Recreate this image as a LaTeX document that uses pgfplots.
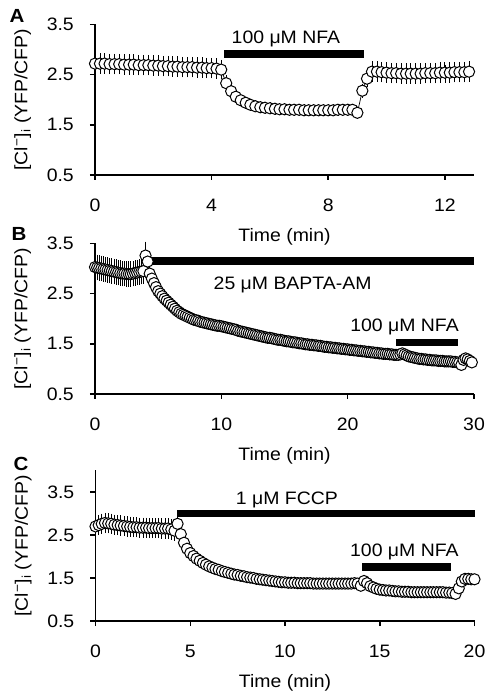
\documentclass[border=0pt]{standalone}
\usepackage{fontspec}
\setmainfont{Liberation Sans}[FakeStretch=1.08]
\usepackage{pgfplots}
\usepackage{pgfplotstable}
\pgfplotsset{compat=1.18}

% panel A: 100 uM NFA
\pgfplotstableread{
t v e
0.00 2.72 0.15
0.17 2.72 0.15
0.33 2.72 0.15
0.50 2.71 0.15
0.67 2.71 0.15
0.83 2.71 0.15
1.00 2.70 0.15
1.17 2.70 0.15
1.33 2.70 0.15
1.50 2.69 0.15
1.67 2.69 0.15
1.83 2.69 0.15
2.00 2.68 0.15
2.17 2.68 0.15
2.33 2.67 0.15
2.50 2.67 0.15
2.67 2.66 0.15
2.83 2.66 0.15
3.00 2.65 0.15
3.17 2.65 0.15
3.33 2.65 0.15
3.50 2.64 0.15
3.67 2.64 0.15
3.83 2.63 0.15
4.00 2.63 0.15
4.17 2.62 0.15
4.33 2.60 0.14
4.50 2.33 0.10
4.67 2.17 0.08
4.83 2.06 0.06
5.00 1.99 0.06
5.17 1.94 0.06
5.33 1.90 0.06
5.50 1.87 0.06
5.67 1.85 0.06
5.83 1.84 0.06
6.00 1.83 0.06
6.17 1.82 0.06
6.33 1.81 0.06
6.50 1.81 0.06
6.67 1.80 0.06
6.83 1.80 0.06
7.00 1.80 0.06
7.17 1.79 0.06
7.33 1.79 0.06
7.50 1.79 0.06
7.67 1.79 0.06
7.83 1.79 0.06
8.00 1.79 0.06
8.17 1.79 0.06
8.33 1.80 0.06
8.50 1.80 0.06
8.67 1.80 0.06
8.83 1.80 0.06
9.00 1.74 0.06
9.17 2.18 0.08
9.33 2.42 0.11
9.50 2.56 0.15
9.67 2.56 0.15
9.83 2.55 0.15
10.00 2.54 0.15
10.17 2.53 0.15
10.33 2.53 0.15
10.50 2.52 0.15
10.67 2.52 0.15
10.83 2.52 0.15
11.00 2.52 0.15
11.17 2.52 0.15
11.33 2.53 0.15
11.50 2.53 0.15
11.67 2.53 0.15
11.83 2.54 0.15
12.00 2.54 0.15
12.17 2.54 0.15
12.33 2.55 0.15
12.50 2.55 0.15
12.67 2.55 0.15
12.83 2.56 0.15
}\dataA

% panel B: BAPTA-AM then NFA
\pgfplotstableread{
t v e
0.00 3.03 0.20
0.17 3.02 0.20
0.33 3.01 0.20
0.50 3.00 0.20
0.67 2.99 0.20
0.83 2.98 0.20
1.00 2.97 0.20
1.17 2.96 0.20
1.33 2.95 0.20
1.50 2.94 0.20
1.67 2.93 0.20
1.83 2.92 0.20
2.00 2.91 0.20
2.17 2.90 0.20
2.33 2.90 0.20
2.50 2.89 0.20
2.67 2.89 0.20
2.83 2.89 0.20
3.00 2.90 0.20
3.17 2.91 0.20
3.33 2.92 0.20
3.50 2.93 0.20
3.67 2.94 0.20
3.83 2.95 0.20
4.00 3.26 0.22
4.17 3.14 0.18
4.33 2.90 0.13
4.50 2.80 0.11
4.67 2.71 0.09
4.83 2.63 0.07
5.00 2.55 0.06
5.17 2.50 0.05
5.33 2.45 0.05
5.50 2.40 0.05
5.67 2.36 0.05
5.83 2.32 0.05
6.00 2.28 0.05
6.17 2.24 0.05
6.33 2.20 0.05
6.50 2.16 0.05
6.67 2.13 0.05
6.83 2.10 0.05
7.00 2.08 0.05
7.17 2.06 0.05
7.33 2.04 0.05
7.50 2.02 0.05
7.67 2.00 0.05
7.83 1.98 0.05
8.00 1.97 0.05
8.17 1.96 0.05
8.33 1.94 0.05
8.50 1.93 0.05
8.67 1.92 0.05
8.83 1.91 0.05
9.00 1.90 0.05
9.17 1.89 0.05
9.33 1.88 0.05
9.50 1.87 0.05
9.67 1.86 0.05
9.83 1.86 0.05
10.00 1.85 0.05
10.17 1.84 0.05
10.33 1.83 0.05
10.50 1.82 0.05
10.67 1.81 0.05
10.83 1.80 0.05
11.00 1.79 0.05
11.17 1.78 0.05
11.33 1.76 0.05
11.50 1.75 0.05
11.67 1.74 0.05
11.83 1.73 0.05
12.00 1.72 0.05
12.17 1.71 0.05
12.33 1.70 0.05
12.50 1.69 0.05
12.67 1.68 0.05
12.83 1.67 0.05
13.00 1.66 0.05
13.17 1.65 0.05
13.33 1.64 0.05
13.50 1.63 0.05
13.67 1.62 0.05
13.83 1.62 0.05
14.00 1.61 0.05
14.17 1.60 0.05
14.33 1.59 0.05
14.50 1.58 0.05
14.67 1.58 0.05
14.83 1.57 0.05
15.00 1.56 0.05
15.17 1.55 0.05
15.33 1.55 0.05
15.50 1.54 0.05
15.67 1.53 0.05
15.83 1.53 0.05
16.00 1.52 0.05
16.17 1.51 0.05
16.33 1.51 0.05
16.50 1.50 0.05
16.67 1.49 0.05
16.83 1.49 0.05
17.00 1.48 0.05
17.17 1.48 0.05
17.33 1.47 0.05
17.50 1.47 0.05
17.67 1.46 0.05
17.83 1.46 0.05
18.00 1.45 0.05
18.17 1.44 0.05
18.33 1.44 0.05
18.50 1.43 0.05
18.67 1.43 0.05
18.83 1.42 0.05
19.00 1.42 0.05
19.17 1.41 0.05
19.33 1.41 0.05
19.50 1.40 0.05
19.67 1.40 0.05
19.83 1.39 0.05
20.00 1.39 0.05
20.17 1.38 0.05
20.33 1.38 0.05
20.50 1.37 0.05
20.67 1.37 0.05
20.83 1.36 0.05
21.00 1.36 0.05
21.17 1.35 0.05
21.33 1.35 0.05
21.50 1.34 0.05
21.67 1.34 0.05
21.83 1.33 0.05
22.00 1.33 0.05
22.17 1.32 0.05
22.33 1.32 0.05
22.50 1.31 0.05
22.67 1.31 0.05
22.83 1.30 0.05
23.00 1.30 0.05
23.17 1.30 0.05
23.33 1.29 0.05
23.50 1.29 0.05
23.67 1.28 0.05
23.83 1.28 0.05
24.00 1.28 0.05
24.17 1.29 0.05
24.33 1.31 0.05
24.50 1.29 0.05
24.67 1.27 0.05
24.83 1.25 0.05
25.00 1.24 0.05
25.17 1.23 0.05
25.33 1.22 0.05
25.50 1.21 0.05
25.67 1.20 0.05
25.83 1.20 0.05
26.00 1.19 0.05
26.17 1.19 0.05
26.33 1.18 0.05
26.50 1.18 0.05
26.67 1.17 0.05
26.83 1.17 0.05
27.00 1.17 0.05
27.17 1.16 0.05
27.33 1.16 0.05
27.50 1.16 0.05
27.67 1.15 0.05
27.83 1.15 0.05
28.00 1.15 0.05
28.17 1.15 0.05
28.33 1.14 0.05
28.50 1.14 0.05
28.67 1.13 0.05
28.83 1.12 0.05
29.00 1.08 0.05
29.17 1.18 0.05
29.33 1.21 0.05
29.50 1.19 0.05
29.67 1.16 0.05
29.83 1.13 0.05
}\dataB

% panel C: FCCP then NFA
\pgfplotstableread{
t v e
0.00 2.70 0.17
0.17 2.73 0.17
0.33 2.76 0.17
0.50 2.78 0.17
0.67 2.77 0.17
0.83 2.76 0.17
1.00 2.74 0.17
1.17 2.73 0.17
1.33 2.72 0.17
1.50 2.71 0.17
1.67 2.70 0.17
1.83 2.69 0.17
2.00 2.68 0.17
2.17 2.68 0.17
2.33 2.67 0.17
2.50 2.67 0.17
2.67 2.67 0.17
2.83 2.66 0.17
3.00 2.66 0.17
3.17 2.66 0.17
3.33 2.66 0.17
3.50 2.65 0.17
3.67 2.65 0.17
3.83 2.65 0.17
4.00 2.63 0.17
4.17 2.60 0.17
4.33 2.76 0.18
4.50 2.52 0.10
4.67 2.32 0.06
4.83 2.18 0.05
5.00 2.08 0.05
5.17 2.01 0.05
5.33 1.95 0.05
5.50 1.90 0.05
5.67 1.85 0.05
5.83 1.81 0.05
6.00 1.77 0.05
6.17 1.74 0.05
6.33 1.71 0.05
6.50 1.69 0.05
6.67 1.66 0.05
6.83 1.64 0.05
7.00 1.62 0.05
7.17 1.60 0.05
7.33 1.58 0.05
7.50 1.57 0.05
7.67 1.55 0.05
7.83 1.54 0.05
8.00 1.52 0.05
8.17 1.51 0.05
8.33 1.50 0.05
8.50 1.48 0.05
8.67 1.47 0.05
8.83 1.46 0.05
9.00 1.45 0.05
9.17 1.44 0.05
9.33 1.43 0.05
9.50 1.42 0.05
9.67 1.41 0.05
9.83 1.40 0.05
10.00 1.40 0.05
10.17 1.39 0.05
10.33 1.39 0.05
10.50 1.39 0.05
10.67 1.38 0.05
10.83 1.38 0.05
11.00 1.38 0.05
11.17 1.38 0.05
11.33 1.38 0.05
11.50 1.37 0.05
11.67 1.37 0.05
11.83 1.37 0.05
12.00 1.37 0.05
12.17 1.37 0.05
12.33 1.37 0.05
12.50 1.37 0.05
12.67 1.37 0.05
12.83 1.37 0.05
13.00 1.37 0.05
13.17 1.37 0.05
13.33 1.37 0.05
13.50 1.37 0.05
13.67 1.38 0.05
13.83 1.37 0.05
14.00 1.32 0.05
14.17 1.43 0.05
14.33 1.38 0.05
14.50 1.31 0.05
14.67 1.28 0.05
14.83 1.25 0.05
15.00 1.23 0.05
15.17 1.22 0.05
15.33 1.21 0.05
15.50 1.21 0.05
15.67 1.20 0.05
15.83 1.19 0.05
16.00 1.19 0.05
16.17 1.18 0.05
16.33 1.18 0.05
16.50 1.18 0.05
16.67 1.17 0.05
16.83 1.17 0.05
17.00 1.17 0.05
17.17 1.17 0.05
17.33 1.17 0.05
17.50 1.17 0.05
17.67 1.17 0.05
17.83 1.17 0.05
18.00 1.17 0.05
18.17 1.17 0.05
18.33 1.17 0.05
18.50 1.16 0.05
18.67 1.16 0.05
18.83 1.15 0.05
19.00 1.13 0.05
19.17 1.26 0.05
19.33 1.42 0.05
19.50 1.48 0.05
19.67 1.48 0.05
19.83 1.47 0.05
20.00 1.47 0.05
}\dataC

\pgfplotsset{
  trace/.style={
    scale only axis, width=379bp, height=150.5bp, clip=false,
    axis x line*=bottom, axis y line*=left,
    axis line style={line width=1.5bp, -},
    tick style={line width=1.5bp, black},
    tick align=outside, major tick length=5bp,
    ymin=0.5, ytick={0.5,1.5,2.5,3.5}, yticklabels={0.5,1.5,2.5,3.5},
    xticklabel style={inner sep=0pt, anchor=north, yshift=-19bp},
    yticklabel style={inner sep=0pt, anchor=east, xshift=-16bp},
    every axis y label/.style={at={(axis description cs:-0.191,0.5)}, rotate=90, anchor=center},
    every axis x label/.style={at={(axis description cs:0.5,-0.41)}, anchor=center},
    xlabel={Time (min)},
    ylabel={[Cl\textsuperscript{−}]\textsubscript{i} (YFP/CFP)},
  },
  % error bars first, underneath the circles
  sem/.style={black, only marks, mark=none, forget plot,
    error bars/y dir=both, error bars/y explicit, error bars/error mark=-,
    error bars/error bar style={line width=0.7bp, solid},
    error bars/error mark options={mark size=2.8bp, line width=0.7bp}},
  cells/.style={black, line width=0.7bp, mark=*, mark size=5.6bp,
    mark options={fill=white, draw=black, line width=1bp}},
  drug/.style={black, line width=7.5bp, no marks, forget plot},
}
\tikzset{panel/.style={font=\bfseries\fontsize{19bp}{22bp}\selectfont}}

\begin{document}
\fontsize{18bp}{21bp}\selectfont
\begin{tikzpicture}
\path[use as bounding box] (0,0) rectangle (487bp,693bp);

\begin{axis}[trace, at={(95bp,518bp)}, anchor=south west,
  xmin=0, xmax=13, ymax=3.5, xtick={0,4,8,12}, xticklabels={0,4,8,12}]
\addplot[sem] table[x=t, y=v, y error=e] {\dataA};
\addplot[cells] table[x=t, y=v] {\dataA};
\addplot[drug] coordinates {(4.44,2.91) (9.23,2.91)};
\node[anchor=base] at (axis cs:6.55,3.125) {100 μM NFA};
\end{axis}

\begin{axis}[trace, at={(95bp,299bp)}, anchor=south west,
  xmin=0, xmax=30, ymax=3.5, xtick={0,10,20,30}, xticklabels={0,10,20,30}]
\addplot[sem] table[x=t, y=v, y error=e] {\dataB};
\addplot[cells] table[x=t, y=v] {\dataB};
\addplot[drug] coordinates {(4.5,3.155) (30,3.155)};
\addplot[drug] coordinates {(23.85,1.53) (28.7,1.53)};
\node[anchor=base] at (axis cs:15.64,2.59) {25 μM BAPTA-AM};
\node[anchor=base] at (axis cs:24.5,1.745) {100 μM NFA};
\end{axis}

\begin{axis}[trace, at={(95.5bp,72bp)}, anchor=south west,
  xmin=0, xmax=20, ymax=4.0, xtick={0,5,10,15,20}, xticklabels={0,5,10,15,20}]
\addplot[sem] table[x=t, y=v, y error=e] {\dataC};
\addplot[cells] table[x=t, y=v] {\dataC};
\addplot[drug] coordinates {(4.32,3.0) (20,3.0)};
\addplot[drug] coordinates {(14.08,1.75) (18.75,1.75)};
\node[anchor=base] at (axis cs:10.1,3.205) {1 μM FCCP};
\node[anchor=base] at (axis cs:16.3,2.0) {100 μM NFA};
\end{axis}

\node[panel] at (17bp,677bp) {A};
\node[panel] at (19bp,459bp) {B};
\node[panel] at (21bp,229bp) {C};
\end{tikzpicture}
\end{document}
